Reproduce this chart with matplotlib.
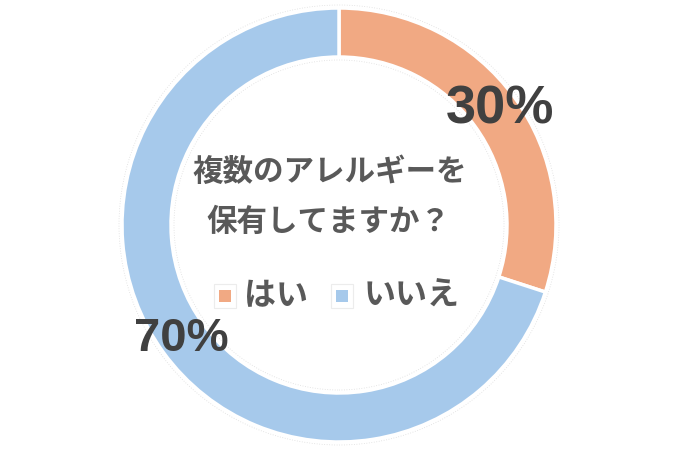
import matplotlib.pyplot as plt
from matplotlib.patches import Circle, Rectangle

plt.rcParams['font.family'] = ['Noto Sans CJK JP', 'DejaVu Sans']

# data
labels = ['はい', 'いいえ']
values = [30, 70]
colors = ['#F1A983', '#A6C9EB']
title_lines = ['複数のアレルギーを', '保有してますか？']

fig = plt.figure(figsize=(7, 4.67), dpi=100)
ax = fig.add_axes([0, 0, 1, 1])

cx, cy = 339, 467 - 225
r_out, ring = 217, 49

wedges, _ = ax.pie(values, colors=colors, startangle=90, counterclock=False,
                   center=(cx, cy), radius=r_out, frame=True,
                   wedgeprops=dict(width=ring, edgecolor='white', linewidth=2.5))
ax.set_xlim(0, 700)
ax.set_ylim(0, 467)
ax.set_aspect('equal')
ax.axis('off')

# faint dotted guide circles
for rr in (r_out + 3, r_out - ring - 3):
    ax.add_patch(Circle((cx, cy), rr, fill=False, ec='#dddddd', lw=0.6, ls=(0, (1, 2))))

# percentage labels
ax.text(500, 467 - 109, f'{values[0]}%', ha='center', va='center',
        fontsize=39, fontweight='bold', color='#404040', family='Liberation Sans')
ax.text(181, 467 - 339, f'{values[1]}%', ha='center', va='center',
        fontsize=34, fontweight='bold', color='#404040', family='Liberation Sans')

# center title
ax.text(330, 467 - 172, title_lines[0], ha='center', va='center',
        fontsize=22, fontweight='bold', color='#595959')
ax.text(328, 467 - 222, title_lines[1], ha='center', va='center',
        fontsize=22, fontweight='bold', color='#595959')

# legend
leg_y = 467 - 296
for sq_x, txt_x, lab, col in [(225, 244, labels[0], colors[0]),
                              (342, 364, labels[1], colors[1])]:
    ax.add_patch(Rectangle((sq_x - 11, leg_y - 12), 22, 24, fill=False,
                           ec='#ececec', lw=0.8))
    ax.add_patch(Rectangle((sq_x - 6, leg_y - 6), 12, 12, color=col, lw=0))
    ax.text(txt_x, leg_y, lab, ha='left', va='center',
            fontsize=23, fontweight='bold', color='#595959')

fig.savefig('out.png', dpi=100)
